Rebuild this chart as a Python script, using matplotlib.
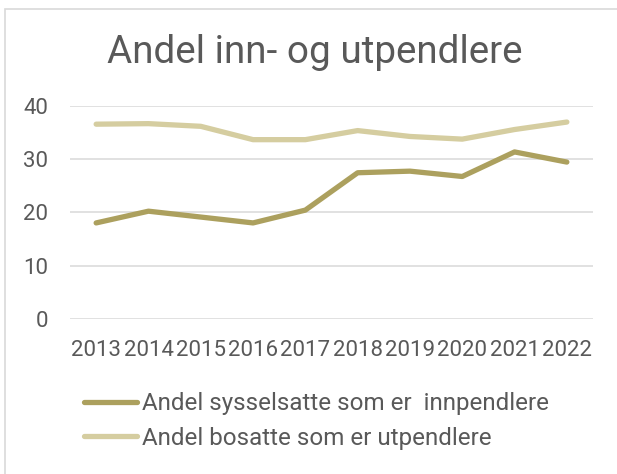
import matplotlib
matplotlib.use("Agg")
import matplotlib.pyplot as plt
from matplotlib.patches import Rectangle

years = ["2013", "2014", "2015", "2016", "2017", "2018", "2019", "2020", "2021", "2022"]
innpendlere = [18.0, 20.2, 19.1, 18.0, 20.4, 27.4, 27.7, 26.7, 31.3, 29.4]
utpendlere = [36.5, 36.6, 36.1, 33.6, 33.6, 35.3, 34.2, 33.7, 35.5, 36.9]
labels = ["Andel sysselsatte som er  innpendlere", "Andel bosatte som er utpendlere"]
title = "Andel inn- og utpendlere"

dark = "#ACA05E"
light = "#D5CDA0"
txt = "#595959"

plt.rcParams["font.family"] = ["Roboto", "DejaVu Sans"]

W, H = 617, 474
fig = plt.figure(figsize=(W / 100, H / 100), dpi=100)
fig.patches.append(Rectangle((5 / W, -0.1), 1.2, 1 - 9 / H + 0.1, transform=fig.transFigure,
                             fill=False, edgecolor="#D9D9D9", linewidth=1.2))
ax = fig.add_axes([70 / W, 1 - 319 / H, 523 / W, 213.5 / H])

x = list(range(len(years)))
ax.plot(x, innpendlere, color=dark, linewidth=3.8, solid_capstyle="round", label=labels[0])
ax.plot(x, utpendlere, color=light, linewidth=3.8, solid_capstyle="round", label=labels[1])

ax.set_xlim(-0.5, len(years) - 0.5)
ax.set_ylim(0, 40)
ax.set_yticks([0, 10, 20, 30, 40])
ax.set_xticks(x)
ax.set_xticklabels(years)
ax.grid(axis="y", color="#D9D9D9", linewidth=1.1)
ax.set_axisbelow(True)
for s in ax.spines.values():
    s.set_visible(False)
ax.tick_params(axis="both", length=0, labelsize=16, labelcolor=txt)
ax.tick_params(axis="y", pad=15.5)
ax.tick_params(axis="x", pad=15)

fig.text(315 / W, 1 - 63 / H, title, ha="center", va="baseline", fontsize=27.8, color=txt)

leg = fig.legend(loc="upper left", bbox_to_anchor=(84 / W, 1 - 392 / H), frameon=False,
                 fontsize=17.4, labelcolor=txt, handlelength=2.2, handletextpad=0.2,
                 labelspacing=0.48, borderaxespad=0, borderpad=0)

fig.savefig("out.png", dpi=100)
